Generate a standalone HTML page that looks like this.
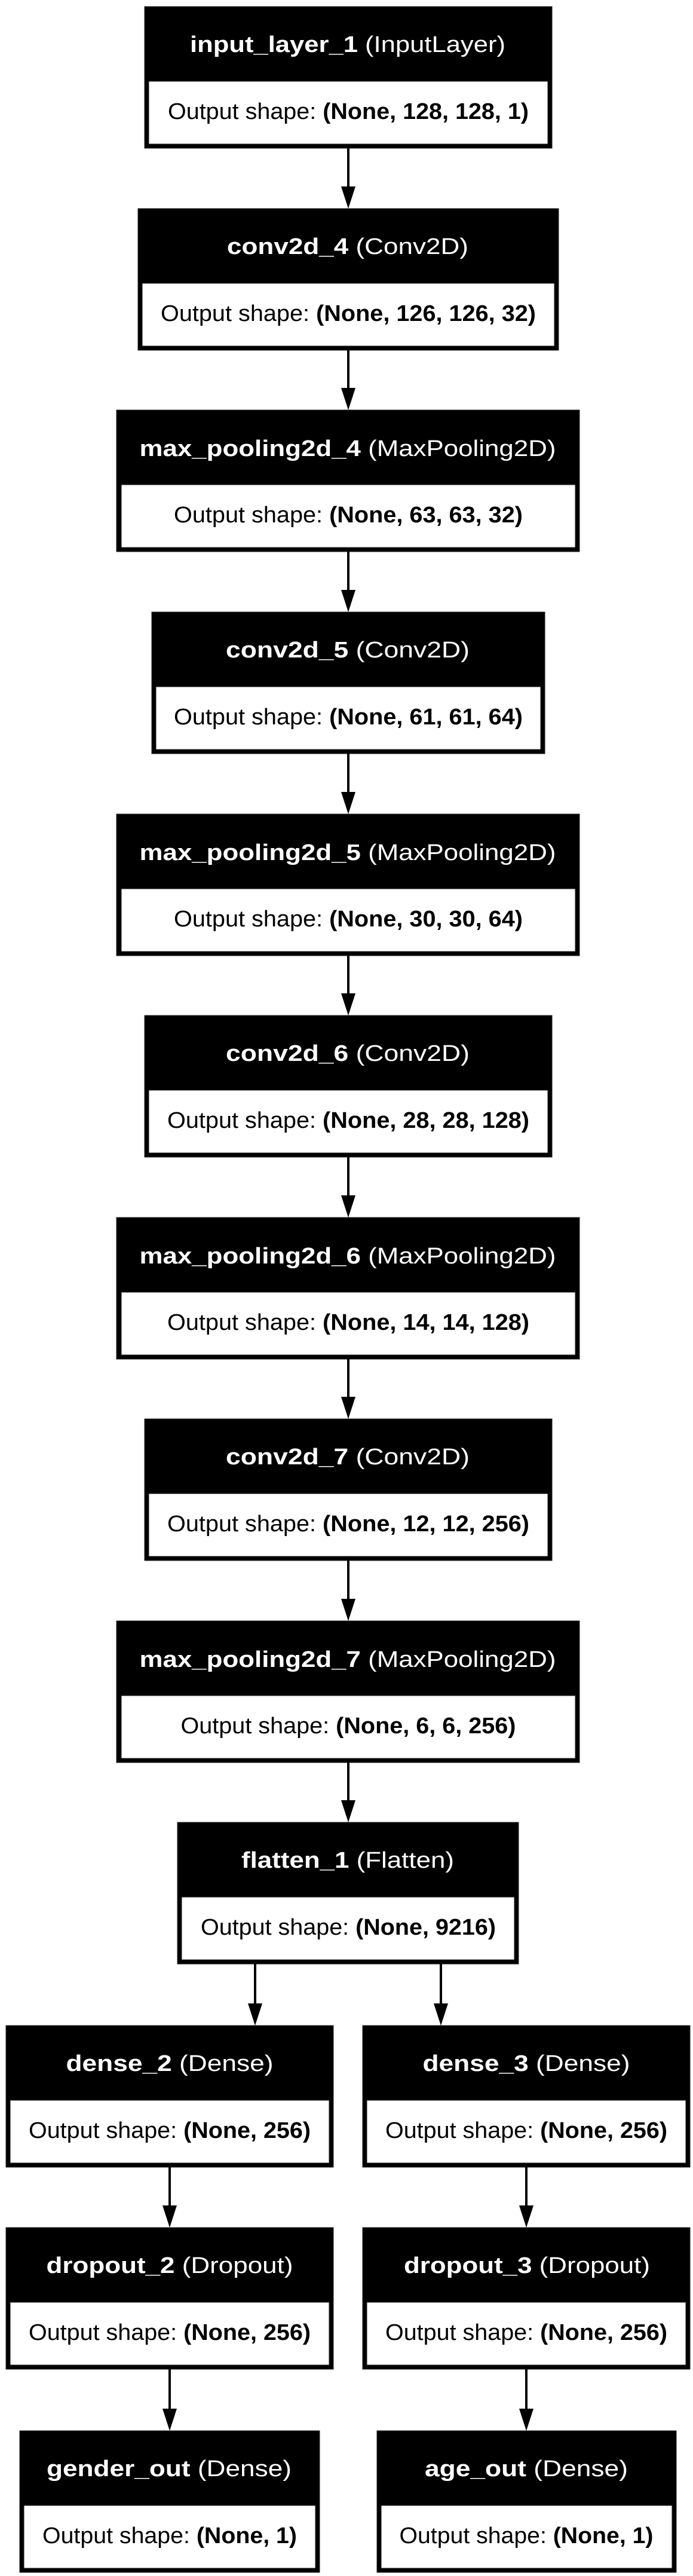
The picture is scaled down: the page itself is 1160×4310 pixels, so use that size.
<!DOCTYPE html>
<html><head><meta charset="utf-8"><style>
html,body{margin:0;padding:0;background:#fff;}
svg{display:block;}
text{font-family:"Liberation Sans",Arial,sans-serif;font-size:38px;}
.h{fill:#fff;}
.o{fill:#000;}
.b{font-weight:bold;}
</style></head><body>
<svg width="1160" height="4310" viewBox="0 0 1160 4310" xmlns="http://www.w3.org/2000/svg">
<defs>
<g id="ah"><polygon points="-12,-37 12,-37 0,0" fill="#000"/></g>
</defs>
<g stroke="#222" stroke-width="1">
<rect x="242" y="11" width="682" height="237" fill="#000"/><rect x="249" y="136" width="668" height="105" fill="#fff"/>
<rect x="231" y="349" width="704" height="237" fill="#000"/><rect x="238" y="474" width="690" height="105" fill="#fff"/>
<rect x="195" y="686" width="775" height="237" fill="#000"/><rect x="203" y="811" width="760" height="105" fill="#fff"/>
<rect x="254" y="1024" width="658" height="237" fill="#000"/><rect x="261" y="1149" width="644" height="105" fill="#fff"/>
<rect x="195" y="1362" width="775" height="237" fill="#000"/><rect x="203" y="1487" width="760" height="105" fill="#fff"/>
<rect x="242" y="1699" width="682" height="237" fill="#000"/><rect x="249" y="1824" width="668" height="105" fill="#fff"/>
<rect x="195" y="2037" width="775" height="237" fill="#000"/><rect x="203" y="2162" width="760" height="105" fill="#fff"/>
<rect x="242" y="2374" width="682" height="237" fill="#000"/><rect x="249" y="2499" width="668" height="105" fill="#fff"/>
<rect x="195" y="2712" width="775" height="237" fill="#000"/><rect x="203" y="2837" width="760" height="105" fill="#fff"/>
<rect x="297" y="3049" width="571" height="237" fill="#000"/><rect x="304" y="3174" width="557" height="105" fill="#fff"/>
<rect x="10" y="3389" width="548" height="237" fill="#000"/><rect x="17" y="3514" width="534" height="105" fill="#fff"/>
<rect x="607" y="3389" width="548" height="237" fill="#000"/><rect x="614" y="3514" width="534" height="105" fill="#fff"/>
<rect x="10" y="3727" width="548" height="237" fill="#000"/><rect x="17" y="3852" width="534" height="105" fill="#fff"/>
<rect x="607" y="3727" width="548" height="237" fill="#000"/><rect x="614" y="3852" width="534" height="105" fill="#fff"/>
<rect x="33" y="4067" width="502" height="237" fill="#000"/><rect x="40" y="4192" width="488" height="105" fill="#fff"/>
<rect x="631" y="4067" width="501" height="237" fill="#000"/><rect x="638" y="4192" width="487" height="105" fill="#fff"/>
</g>
<g stroke="#000" stroke-width="4">
<line x1="583" y1="248" x2="583" y2="314"/>
<line x1="583" y1="586" x2="583" y2="651"/>
<line x1="583" y1="923" x2="583" y2="989"/>
<line x1="583" y1="1261" x2="583" y2="1327"/>
<line x1="583" y1="1599" x2="583" y2="1664"/>
<line x1="583" y1="1936" x2="583" y2="2002"/>
<line x1="583" y1="2274" x2="583" y2="2339"/>
<line x1="583" y1="2611" x2="583" y2="2677"/>
<line x1="583" y1="2949" x2="583" y2="3014"/>
<line x1="427" y1="3286" x2="427" y2="3354"/>
<line x1="738" y1="3286" x2="738" y2="3354"/>
<line x1="284" y1="3626" x2="284" y2="3692"/>
<line x1="881" y1="3626" x2="881" y2="3692"/>
<line x1="284" y1="3964" x2="284" y2="4032"/>
<line x1="881" y1="3964" x2="881" y2="4032"/>
</g>
<use href="#ah" x="583" y="349"/><use href="#ah" x="583" y="686"/><use href="#ah" x="583" y="1024"/>
<use href="#ah" x="583" y="1362"/><use href="#ah" x="583" y="1699"/><use href="#ah" x="583" y="2037"/>
<use href="#ah" x="583" y="2374"/><use href="#ah" x="583" y="2712"/><use href="#ah" x="583" y="3049"/>
<use href="#ah" x="427" y="3389"/><use href="#ah" x="738" y="3389"/>
<use href="#ah" x="284" y="3727"/><use href="#ah" x="881" y="3727"/>
<use href="#ah" x="284" y="4067"/><use href="#ah" x="881" y="4067"/>
<g text-anchor="middle">
<text class="h" x="582" y="87" textLength="528" lengthAdjust="spacingAndGlyphs"><tspan class="b">input_layer_1</tspan> (InputLayer)</text>
<text class="o" x="583" y="199" textLength="604" lengthAdjust="spacingAndGlyphs">Output shape: <tspan class="b">(None, 128, 128, 1)</tspan></text>

<text class="h" x="582" y="425" textLength="404" lengthAdjust="spacingAndGlyphs"><tspan class="b">conv2d_4</tspan> (Conv2D)</text>
<text class="o" x="583" y="537" textLength="628" lengthAdjust="spacingAndGlyphs">Output shape: <tspan class="b">(None, 126, 126, 32)</tspan></text>

<text class="h" x="582" y="763" textLength="697" lengthAdjust="spacingAndGlyphs"><tspan class="b">max_pooling2d_4</tspan> (MaxPooling2D)</text>
<text class="o" x="583" y="874" textLength="584" lengthAdjust="spacingAndGlyphs">Output shape: <tspan class="b">(None, 63, 63, 32)</tspan></text>

<text class="h" x="582" y="1100" textLength="408" lengthAdjust="spacingAndGlyphs"><tspan class="b">conv2d_5</tspan> (Conv2D)</text>
<text class="o" x="583" y="1212" textLength="584" lengthAdjust="spacingAndGlyphs">Output shape: <tspan class="b">(None, 61, 61, 64)</tspan></text>

<text class="h" x="582" y="1439" textLength="697" lengthAdjust="spacingAndGlyphs"><tspan class="b">max_pooling2d_5</tspan> (MaxPooling2D)</text>
<text class="o" x="583" y="1550" textLength="584" lengthAdjust="spacingAndGlyphs">Output shape: <tspan class="b">(None, 30, 30, 64)</tspan></text>

<text class="h" x="582" y="1775" textLength="408" lengthAdjust="spacingAndGlyphs"><tspan class="b">conv2d_6</tspan> (Conv2D)</text>
<text class="o" x="583" y="1887" textLength="606" lengthAdjust="spacingAndGlyphs">Output shape: <tspan class="b">(None, 28, 28, 128)</tspan></text>

<text class="h" x="582" y="2114" textLength="697" lengthAdjust="spacingAndGlyphs"><tspan class="b">max_pooling2d_6</tspan> (MaxPooling2D)</text>
<text class="o" x="583" y="2225" textLength="606" lengthAdjust="spacingAndGlyphs">Output shape: <tspan class="b">(None, 14, 14, 128)</tspan></text>

<text class="h" x="582" y="2450" textLength="408" lengthAdjust="spacingAndGlyphs"><tspan class="b">conv2d_7</tspan> (Conv2D)</text>
<text class="o" x="583" y="2562" textLength="606" lengthAdjust="spacingAndGlyphs">Output shape: <tspan class="b">(None, 12, 12, 256)</tspan></text>

<text class="h" x="582" y="2789" textLength="697" lengthAdjust="spacingAndGlyphs"><tspan class="b">max_pooling2d_7</tspan> (MaxPooling2D)</text>
<text class="o" x="583" y="2900" textLength="561" lengthAdjust="spacingAndGlyphs">Output shape: <tspan class="b">(None, 6, 6, 256)</tspan></text>

<text class="h" x="582" y="3125" textLength="356" lengthAdjust="spacingAndGlyphs"><tspan class="b">flatten_1</tspan> (Flatten)</text>
<text class="o" x="583" y="3237" textLength="494" lengthAdjust="spacingAndGlyphs">Output shape: <tspan class="b">(None, 9216)</tspan></text>

<text class="h" x="284" y="3465" textLength="347" lengthAdjust="spacingAndGlyphs"><tspan class="b">dense_2</tspan> (Dense)</text>
<text class="o" x="284" y="3577" textLength="472" lengthAdjust="spacingAndGlyphs">Output shape: <tspan class="b">(None, 256)</tspan></text>
<text class="h" x="881" y="3465" textLength="347" lengthAdjust="spacingAndGlyphs"><tspan class="b">dense_3</tspan> (Dense)</text>
<text class="o" x="881" y="3577" textLength="472" lengthAdjust="spacingAndGlyphs">Output shape: <tspan class="b">(None, 256)</tspan></text>

<text class="h" x="284" y="3803" textLength="413" lengthAdjust="spacingAndGlyphs"><tspan class="b">dropout_2</tspan> (Dropout)</text>
<text class="o" x="284" y="3915" textLength="472" lengthAdjust="spacingAndGlyphs">Output shape: <tspan class="b">(None, 256)</tspan></text>
<text class="h" x="882" y="3803" textLength="412" lengthAdjust="spacingAndGlyphs"><tspan class="b">dropout_3</tspan> (Dropout)</text>
<text class="o" x="881" y="3915" textLength="472" lengthAdjust="spacingAndGlyphs">Output shape: <tspan class="b">(None, 256)</tspan></text>

<text class="h" x="283" y="4143" textLength="410" lengthAdjust="spacingAndGlyphs"><tspan class="b">gender_out</tspan> (Dense)</text>
<text class="o" x="284" y="4255" textLength="426" lengthAdjust="spacingAndGlyphs">Output shape: <tspan class="b">(None, 1)</tspan></text>
<text class="h" x="881" y="4143" textLength="340" lengthAdjust="spacingAndGlyphs"><tspan class="b">age_out</tspan> (Dense)</text>
<text class="o" x="881" y="4255" textLength="425" lengthAdjust="spacingAndGlyphs">Output shape: <tspan class="b">(None, 1)</tspan></text>
</g>
</svg>
</body></html>
